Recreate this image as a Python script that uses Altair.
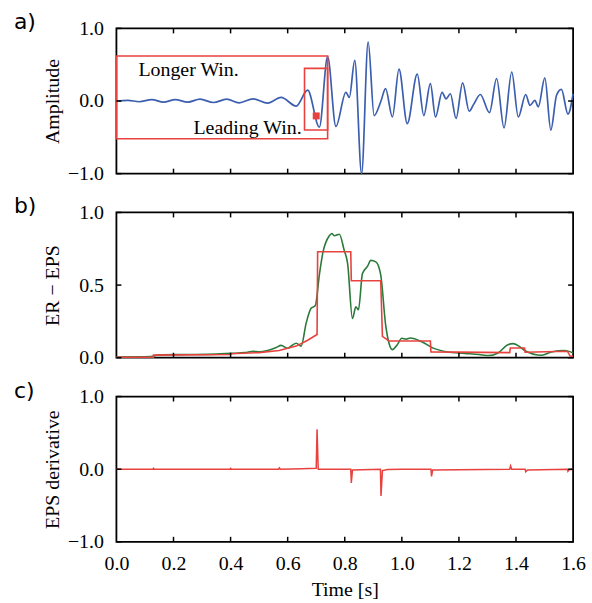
import altair as alt
import pandas as pd

# ---------------- data ----------------
wave_t = [0.00, 0.04, 0.08, 0.124, 0.165, 0.206, 0.25, 0.293, 0.34, 0.386, 0.43, 0.479, 0.53, 0.577,
          0.630, 0.670, 0.711, 0.740, 0.769, 0.804, 0.816, 0.835, 0.859, 0.882, 0.903, 0.926, 0.943,
          0.967, 0.990, 1.019, 1.054, 1.077, 1.100, 1.118, 1.141, 1.155, 1.170, 1.190, 1.213, 1.236,
          1.251, 1.275, 1.307, 1.332, 1.358, 1.385, 1.408, 1.434, 1.449, 1.466, 1.478, 1.501, 1.522,
          1.542, 1.559, 1.582, 1.600]
wave_v = [0.00, 0.01, -0.01, 0.02, -0.015, 0.02, -0.015, 0.025, -0.02, 0.025, -0.025, 0.03, -0.03, 0.05,
          -0.07, 0.15, -0.36, 0.61, -0.35, 0.12, 0.05, 0.56, -1.0, 0.81, -0.20, -0.01, 0.17,
          -0.22, 0.44, -0.31, 0.37, -0.20, 0.24, -0.22, 0.12, 0.03, 0.10, -0.24, 0.25, -0.14,
          -0.05, 0.09, -0.16, 0.31, -0.37, 0.40, -0.22, 0.09, -0.06, 0.01, -0.08, 0.32, -0.40,
          0.08, 0.16, -0.18, 0.10]

# windows in panel a: [t start, t end, v bottom, v top]
win_t0 = [0.0, 0.659]
win_t1 = [0.740, 0.740]
win_v0 = [-0.52, -0.40]
win_v1 = [0.62, 0.45]
pick_t = [0.700]
pick_v = [-0.205]
ann_text = ["Longer Win.", "Leading Win."]
ann_t = [0.077, 0.27]
ann_v = [0.34, -0.45]

er_t = [0.00, 0.12, 0.15, 0.25, 0.35, 0.40, 0.45, 0.48, 0.50, 0.53, 0.56, 0.577, 0.60, 0.615, 0.63,
        0.647, 0.665, 0.682, 0.697, 0.711, 0.723, 0.746, 0.755, 0.763, 0.781, 0.798, 0.810, 0.827,
        0.839, 0.848, 0.862, 0.880, 0.891, 0.909, 0.926, 0.943, 0.955, 0.967, 0.984, 1.00, 1.015,
        1.03, 1.07, 1.11, 1.16, 1.22, 1.27, 1.304, 1.337, 1.372, 1.39, 1.41, 1.43, 1.49, 1.524,
        1.571, 1.60]
er_v = [0.005, 0.008, 0.02, 0.022, 0.025, 0.03, 0.035, 0.045, 0.04, 0.05, 0.07, 0.085, 0.065, 0.085, 0.10,
        0.08, 0.24, 0.34, 0.36, 0.57, 0.72, 0.84, 0.855, 0.84, 0.85, 0.74, 0.65, 0.27,
        0.35, 0.33, 0.58, 0.63, 0.67, 0.66, 0.57, 0.23, 0.10, 0.056, 0.09, 0.134, 0.128,
        0.136, 0.11, 0.066, 0.04, 0.03, 0.022, 0.015, 0.033, 0.09, 0.097, 0.08, 0.05, 0.017, 0.04,
        0.05, 0.033]

eps_t = [0.0, 0.13, 0.13, 0.40, 0.40, 0.50, 0.57, 0.63, 0.67, 0.703, 0.705, 0.821, 0.823, 0.926,
         0.932, 0.955, 1.10, 1.102, 1.378, 1.380, 1.430, 1.432, 1.58, 1.59, 1.60]
eps_v = [0.003, 0.003, 0.018, 0.022, 0.028, 0.035, 0.05, 0.08, 0.12, 0.16, 0.73, 0.73, 0.53, 0.53,
         0.147, 0.115, 0.115, 0.04, 0.035, 0.067, 0.067, 0.038, 0.045, 0.01, 0.01]

der_t = [0.0, 0.128, 0.13, 0.133, 0.398, 0.40, 0.403, 0.568, 0.571, 0.574, 0.65, 0.70, 0.703, 0.707,
         0.821, 0.823, 0.827, 0.925, 0.927, 0.932, 0.95, 1.0, 1.102, 1.104, 1.108, 1.378, 1.381,
         1.385, 1.432, 1.434, 1.44, 1.58, 1.582, 1.586, 1.6]
der_v = [0.0, 0.0, 0.012, 0.0, 0.0, 0.01, 0.0, 0.0, 0.018, 0.0, 0.005, 0.012, 0.55, 0.0,
         0.0, -0.19, -0.01, 0.0, -0.37, -0.02, -0.005, 0.0, 0.0, -0.10, -0.01, 0.0, 0.045,
         0.0, 0.0, -0.035, -0.01, 0.0, -0.03, -0.01, 0.0]

x_ticks = [0.0, 0.2, 0.4, 0.6, 0.8, 1.0, 1.2, 1.4, 1.6]
ya_ticks = [-1.0, 0.0, 1.0]
yb_ticks = [0.0, 0.5, 1.0]
yc_ticks = [-1.0, 0.0, 1.0]

# ---------------- style ----------------
W, H = 459, 146
TL = 5
BLUE = "#3b5eae"
GREEN = "#2b7a3a"
RED = "#e8423f"
SERIF = "Liberation Serif"
MINUS = "replace(datum.label, '-', '\u2212')"


def seq(t, v):
    return pd.DataFrame({"t": t, "v": v, "i": list(range(len(t)))})


def panel(layers, ydom, yticks, ytitle, letter, show_x):
    xaxis = alt.Axis(values=x_ticks, format=".1f", labelFlush=False, labelPadding=12,
                     title="Time [s]", titlePadding=6) if show_x else None
    base_x = alt.X("t:Q", scale=alt.Scale(domain=[0, 1.6], nice=False, zero=False), axis=xaxis)
    base_y = alt.Y("v:Q", scale=alt.Scale(domain=ydom, nice=False, zero=False),
                   axis=alt.Axis(values=yticks, format=".1f", labelExpr=MINUS, labelPadding=13,
                                 title=ytitle, titleX=-58, titleY=H / 2,
                                 titleBaseline="alphabetic", titleAlign="center"))
    xt = pd.DataFrame({"t": [v for v in x_ticks if 0 < v < 1.6]})
    yt = pd.DataFrame({"v": yticks})
    tick_style = dict(color="black", strokeWidth=1.5)
    ticks = [
        alt.Chart(xt).mark_rule(**tick_style).encode(y=alt.value(0), y2=alt.value(TL)),
        alt.Chart(xt).mark_rule(**tick_style).encode(y=alt.value(H - TL), y2=alt.value(H)),
        alt.Chart(yt).mark_rule(**tick_style).encode(x=alt.value(0), x2=alt.value(TL)),
        alt.Chart(yt).mark_rule(**tick_style).encode(x=alt.value(W - TL), x2=alt.value(W)),
    ]
    lab = alt.Chart(pd.DataFrame({"s": [letter]})).mark_text(
        font="DejaVu Sans", fontSize=22, align="left", baseline="alphabetic", color="black"
    ).encode(text="s:N", x=alt.value(-103), y=alt.value(1))
    return alt.layer(*layers, *ticks, lab).encode(x=base_x, y=base_y).properties(width=W, height=H)


# panel a
wave = alt.Chart(seq(wave_t, wave_v)).mark_line(color=BLUE, strokeWidth=1.7, interpolate="monotone")
wins = alt.Chart(pd.DataFrame({"t": win_t0, "t1": win_t1, "v": win_v0, "v1": win_v1})).mark_rect(
    fill=None, fillOpacity=0, stroke=RED, strokeWidth=1.6
).encode(x2="t1:Q", y2="v1:Q")
pick = alt.Chart(pd.DataFrame({"t": pick_t, "v": pick_v})).mark_square(
    color=RED, size=49, opacity=1, filled=True)
ann = alt.Chart(pd.DataFrame({"t": ann_t, "v": ann_v, "s": ann_text})).mark_text(
    font=SERIF, fontSize=20, align="left", baseline="alphabetic", color="black"
).encode(text="s:N")
pa = panel([wave, wins, pick, ann], [-1, 1], ya_ticks, "Amplitude", "a)", False)

# panel b
er = alt.Chart(seq(er_t, er_v)).mark_line(color=GREEN, strokeWidth=1.6, interpolate="monotone").encode(order="i:Q")
eps = alt.Chart(seq(eps_t, eps_v)).mark_line(color=RED, strokeWidth=1.6).encode(order="i:Q")
pb = panel([er, eps], [0, 1], yb_ticks, "ER \u2212 EPS", "b)", False)

# panel c
der = alt.Chart(seq(der_t, der_v)).mark_line(color=RED, strokeWidth=1.5).encode(order="i:Q")
pc = panel([der], [-1, 1], yc_ticks, "EPS derivative", "c)", True)

chart = alt.vconcat(pa, pb, pc, spacing=39, bounds="flush").properties(
    padding={"left": 13, "top": 9, "right": 5, "bottom": 5}, background="white"
).configure_view(stroke="black", strokeWidth=1.8).configure_axis(
    labelFont=SERIF, labelFontSize=20, labelColor="black", titleFont=SERIF, titleFontSize=20,
    titleFontWeight="normal", titleColor="black", ticks=False, tickSize=0, domain=False, grid=False
)

chart.save("out.html", embed_options={"renderer": "svg", "actions": False})
